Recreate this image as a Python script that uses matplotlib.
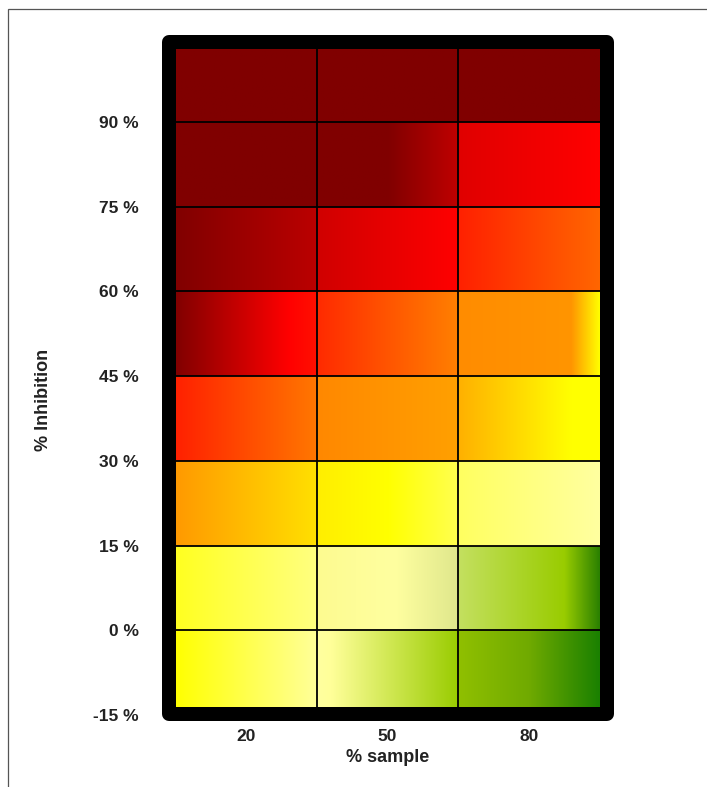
import numpy as np
import matplotlib
matplotlib.use('Agg')
import matplotlib.pyplot as plt
from matplotlib.colors import LinearSegmentedColormap
from matplotlib.patches import Rectangle

#--------------------------------------------------------------------
# Data

sample_pct = [20, 50, 80]                  # column centres (% sample)
col_edges = [5, 35, 65, 95]
row_edges = [-15, 0, 15, 30, 45, 60, 75, 90, 105]   # % inhibition bands
ytick_vals = [-15, 0, 15, 30, 45, 60, 75, 90]
ytick_labels = ['-15 %', '0 %', '15 %', '30 %', '45 %', '60 %', '75 %', '90 %']

# left -> right colour stops of every cell, rows from bottom (-15) to top
row_m15 = [[(0, '#ffff00'), (1, '#ffff99')],
           [(0, '#ffffa0'), (0.1, '#ffff99'), (1, '#99cc00')],
           [(0, '#90c000'), (0.5, '#70aa00'), (1, '#1a8000')]]
row_0 = [[(0, '#ffff20'), (1, '#ffff80')],
         [(0, '#fdfb90'), (0.55, '#ffffa0'), (1, '#dfe78c')],
         [(0, '#c4e060'), (0.75, '#99cc00'), (1, '#2a8000')]]
row_15 = [[(0, '#ff9900'), (1, '#ffe000')],
          [(0, '#ffee00'), (0.5, '#ffff00'), (1, '#ffff50')],
          [(0, '#ffff60'), (1, '#ffffa0')]]
row_30 = [[(0, '#ff2000'), (1, '#ff7700')],
          [(0, '#ff8800'), (1, '#ffa000')],
          [(0, '#ffb000'), (0.8, '#ffff00'), (1, '#ffff00')]]
row_45 = [[(0, '#800000'), (0.8, '#ff0000'), (1, '#ff1000')],
          [(0, '#ff2a00'), (1, '#ff8000')],
          [(0, '#ff8c00'), (0.8, '#ff9500'), (1, '#ffff00')]]
row_60 = [[(0, '#800000'), (1, '#bb0000')],
          [(0, '#d00000'), (1, '#ff0000')],
          [(0, '#ff2000'), (1, '#ff6600')]]
row_75 = [[(0, '#800000'), (1, '#800000')],
          [(0, '#800000'), (0.5, '#800000'), (1, '#c00000')],
          [(0, '#e00000'), (1, '#ff0000')]]
row_90 = [[(0, '#800000'), (1, '#800000')],
          [(0, '#800000'), (1, '#800000')],
          [(0, '#800000'), (1, '#800000')]]
cell_colors = [row_m15, row_0, row_15, row_30, row_45, row_60, row_75, row_90]
#--------------------------------------------------------------------

W, H = 707, 787
fig = plt.figure(figsize=(W / 100, H / 100), dpi=100)
fnt = ['Liberation Sans Narrow', 'Liberation Sans', 'DejaVu Sans']

# plot area (pixels from top-left)
ax_l, ax_r, ax_t, ax_b = 175, 600, 48, 715
ax = fig.add_axes([ax_l / W, 1 - ax_b / H, (ax_r - ax_l) / W, (ax_b - ax_t) / H])

ramp = np.linspace(0, 1, 256).reshape(1, -1)
for i in range(len(cell_colors)):
    for j in range(len(sample_pct)):
        cmap = LinearSegmentedColormap.from_list('c%d%d' % (i, j), cell_colors[i][j])
        ax.imshow(ramp, cmap=cmap, aspect='auto', interpolation='bilinear',
                  extent=[col_edges[j], col_edges[j + 1], row_edges[i], row_edges[i + 1]],
                  zorder=1)

ax.hlines(row_edges[1:-1], col_edges[0], col_edges[-1], colors='black', lw=1.3, zorder=2)
ax.vlines(col_edges[1:-1], row_edges[0], row_edges[-1], colors='black', lw=1.3, zorder=2)

ax.set_xlim(col_edges[0], col_edges[-1])
ax.set_ylim(-15, 90 + 74 / 85 * 15)
for s in ax.spines.values():
    s.set_visible(False)

ax.set_xticks(sample_pct)
ax.set_xticklabels([str(v) for v in sample_pct])
ax.set_yticks(ytick_vals)
ax.set_yticklabels(ytick_labels)
ax.tick_params(axis='x', length=0, pad=10)
ax.tick_params(axis='y', length=0, pad=26)
for lab in ax.get_xticklabels() + ax.get_yticklabels():
    lab.set_fontfamily(fnt)
    lab.set_fontsize(12.5)
    lab.set_fontweight('bold')
    lab.set_color('#222222')

ax.set_xlabel('% sample', family=fnt, fontsize=13, fontweight='bold', color='#222222', labelpad=4)
fig.text(44 / W, 1 - 400 / H, '% Inhibition', family=fnt, fontsize=13, fontweight='bold',
         color='#222222', rotation=90, ha='center', va='center')

# thick black frame round the plot area (inner edge overlaps the cells a little)
lw_px = 14
fig.add_artist(Rectangle(((162 + lw_px / 2) / W, 1 - (721 - lw_px / 2) / H),
                         (614 - 162 - lw_px) / W, (721 - 35 - lw_px) / H,
                         transform=fig.transFigure, fill=False, edgecolor='black',
                         lw=lw_px * 72 / 100, joinstyle='round', zorder=5))

# thin outer border (open to the right and bottom)
fig.add_artist(Rectangle((8 / W, -0.1), 1.2, 1 - 9 / H + 0.1, transform=fig.transFigure,
                         fill=False, edgecolor='#555555', lw=0.9, zorder=0))

fig.savefig('out.png', dpi=100)
